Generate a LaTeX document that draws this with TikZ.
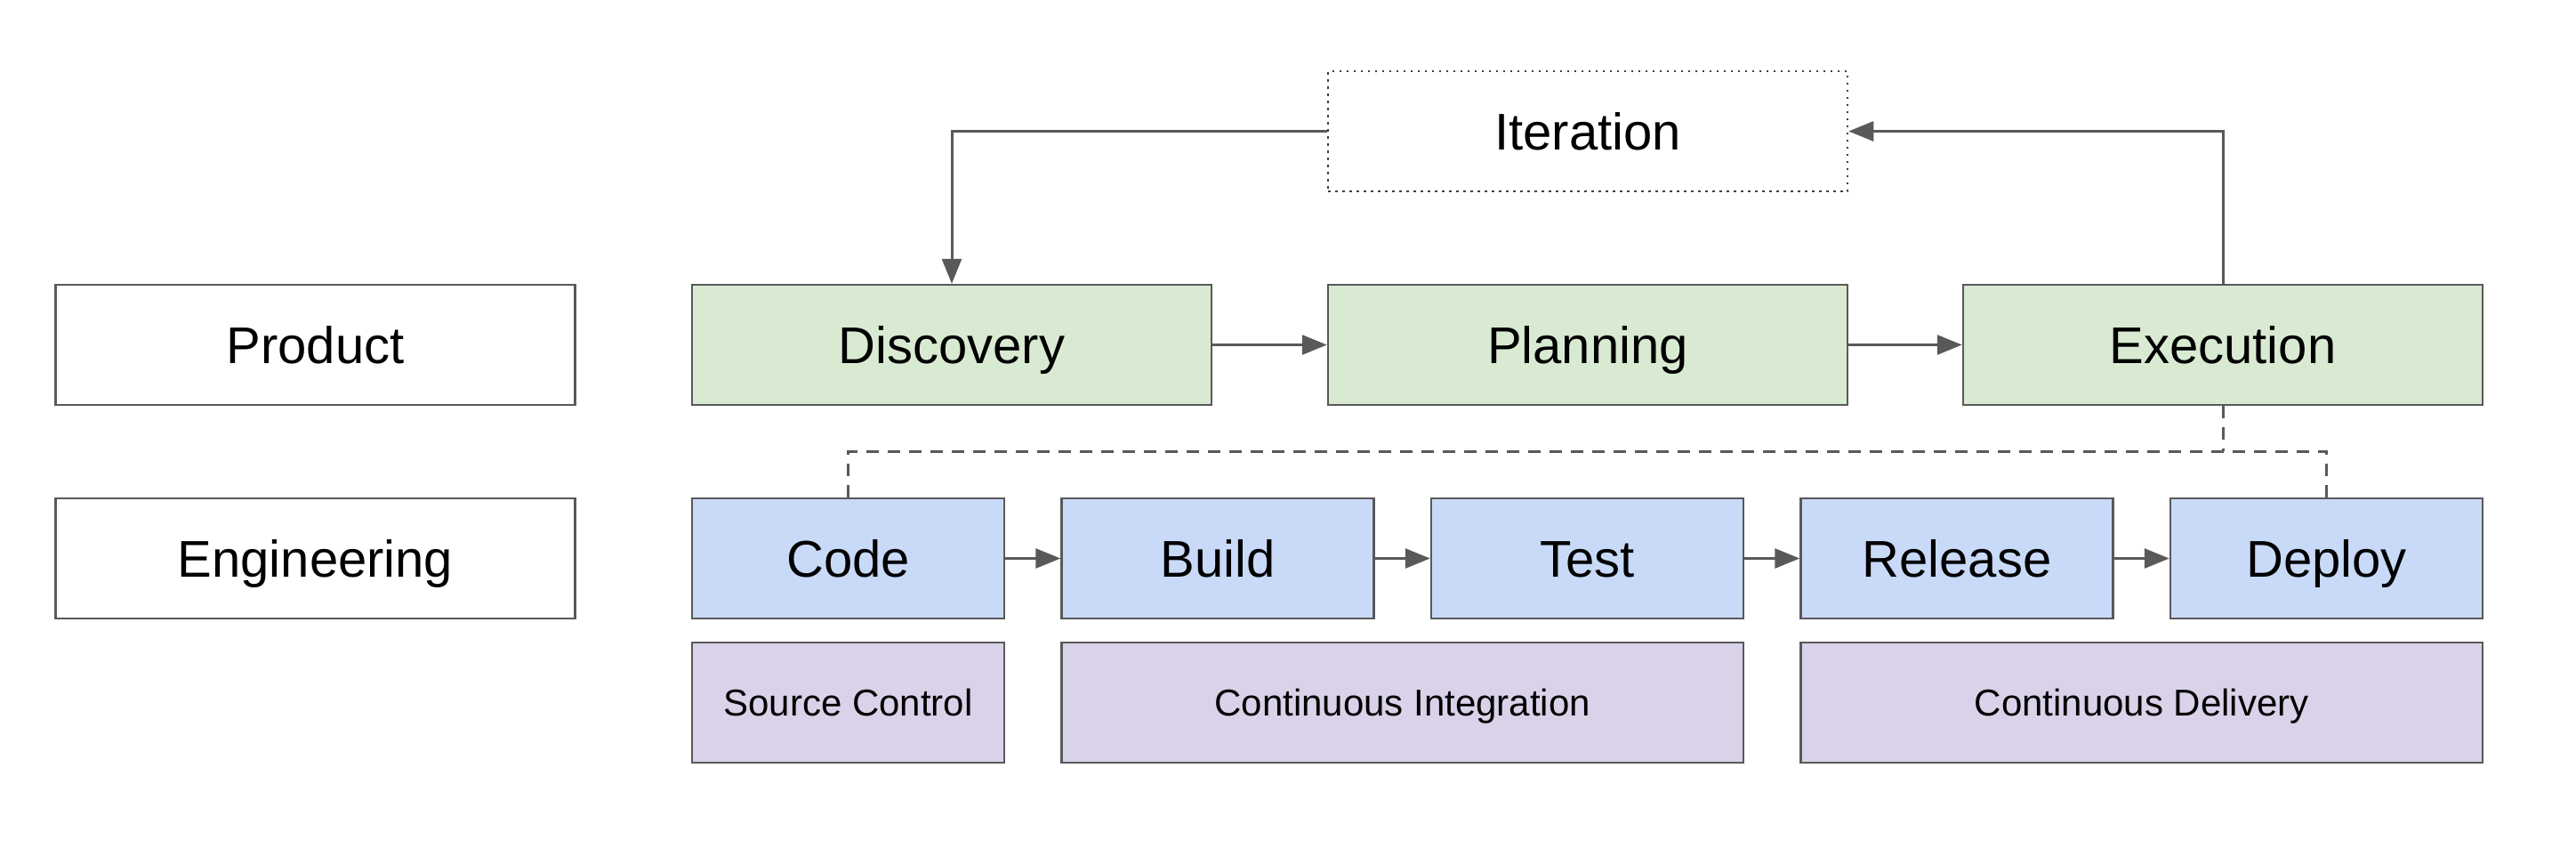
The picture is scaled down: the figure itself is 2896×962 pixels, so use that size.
\documentclass[tikz,border=0pt]{standalone}
\usepackage{fontspec}
\setmainfont{Liberation Sans}
\usetikzlibrary{arrows.meta}
\definecolor{edge}{HTML}{595959}
\definecolor{prodgreen}{HTML}{D9EAD3}
\definecolor{engblue}{HTML}{C9DAF8}
\definecolor{grp}{HTML}{D9D2E9}
\begin{document}
\begin{tikzpicture}[x=1pt,y=-1pt,
 box/.style={draw=edge, line width=2.5pt, minimum height=135pt, inner sep=0pt, text height=41.7pt, text depth=0pt, font=\fontsize{58}{70}\selectfont},
 wide/.style={box, minimum width=584pt},
 narrow/.style={box, minimum width=351pt, fill=engblue},
 grpbox/.style={box, fill=grp, text height=30pt, font=\fontsize{42}{50}\selectfont},
 conn/.style={draw=edge, line width=3pt, -{Triangle[length=28pt,width=22pt]}},
 dashconn/.style={draw=edge, line width=3pt, dash pattern=on 14pt off 10pt}]
\useasboundingbox (0,0) rectangle (2896,962);
\fill[white] (0,0) rectangle (2896,962);
\node[wide, draw=black!75, line width=2.5pt, dash pattern=on 2.5pt off 5.5pt] (iter) at (1785,147.5) {Iteration};
\node[wide] (prod) at (354.5,387.5) {Product};
\node[wide, fill=prodgreen] (disc) at (1070,387.5) {Discovery};
\node[wide, fill=prodgreen] (plan) at (1785,387.5) {Planning};
\node[wide, fill=prodgreen] (exec) at (2499,387.5) {Execution};
\node[wide] (eng) at (354.5,627.5) {Engineering};
\node[narrow] (code) at (953.5,627.5) {Code};
\node[narrow] (build) at (1369,627.5) {Build};
\node[narrow] (test) at (1784.5,627.5) {Test};
\node[narrow] (rel) at (2200,627.5) {Release};
\node[narrow] (dep) at (2615.5,627.5) {Deploy};
\node[grpbox, minimum width=351pt] (sc) at (953.5,789.5) {Source Control};
\node[grpbox, minimum width=766.5pt] (ci) at (1576.75,789.5) {Continuous Integration};
\node[grpbox, minimum width=766.5pt] (cd) at (2407.75,789.5) {Continuous Delivery};
\coordinate (bus) at (0,507);
\draw[conn] (iter.west) -| (disc.north);
\draw[conn] (exec.north) |- (iter.east);
\draw[conn] (disc) -- (plan);
\draw[conn] (plan) -- (exec);
\draw[conn] (code) -- (build);
\draw[conn] (build) -- (test);
\draw[conn] (test) -- (rel);
\draw[conn] (rel) -- (dep);
\draw[dashconn] (code.north) -- (code.north |- bus) -- (dep.north |- bus) -- (dep.north);
\draw[dashconn] (exec.south) -- (exec.south |- bus);
\end{tikzpicture}
\end{document}
